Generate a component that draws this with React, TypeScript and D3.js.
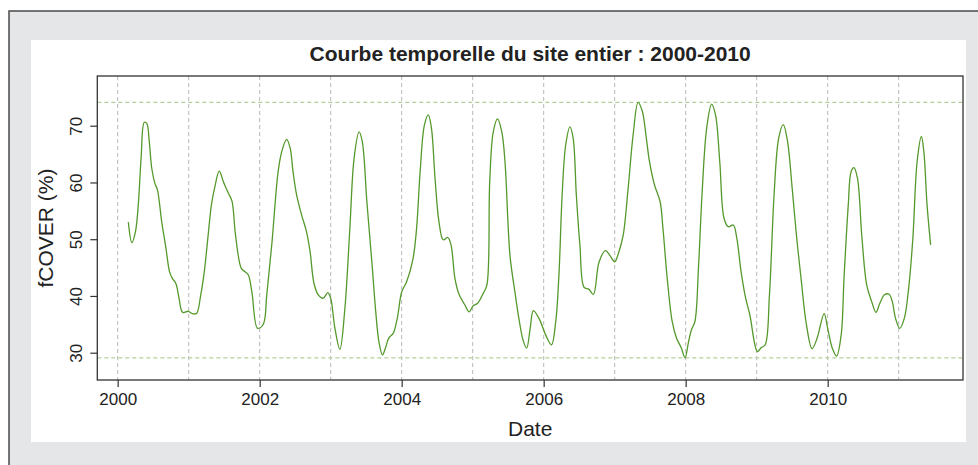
import { useEffect, useRef } from "react";
import * as d3 from "d3";

// decimal year of each sample
const dates = [
  2000.15, 2000.2, 2000.25, 2000.29, 2000.33, 2000.375, 2000.41, 2000.445, 2000.48, 2000.525,
  2000.56, 2000.62, 2000.68, 2000.73, 2000.77, 2000.82, 2000.86, 2000.915, 2000.995, 2001.05,
  2001.11, 2001.17, 2001.22, 2001.27, 2001.32, 2001.37, 2001.43, 2001.49, 2001.56, 2001.61,
  2001.66, 2001.74, 2001.79, 2001.84, 2001.89, 2001.97, 2002.05, 2002.1, 2002.17, 2002.26,
  2002.31, 2002.38, 2002.43, 2002.47, 2002.52, 2002.59, 2002.66, 2002.71, 2002.765, 2002.825,
  2002.895, 2002.96, 2003.0, 2003.06, 2003.13, 2003.2, 2003.27, 2003.33, 2003.4, 2003.445,
  2003.51, 2003.58, 2003.635, 2003.68, 2003.73, 2003.77, 2003.82, 2003.88, 2003.94, 2004.0,
  2004.07, 2004.16, 2004.21, 2004.26, 2004.32, 2004.375, 2004.42, 2004.47, 2004.525, 2004.585,
  2004.65, 2004.695, 2004.75, 2004.81, 2004.89, 2004.95, 2005.01, 2005.07, 2005.15, 2005.2,
  2005.24, 2005.29, 2005.35, 2005.41, 2005.455, 2005.525, 2005.595, 2005.65, 2005.71, 2005.76,
  2005.81, 2005.855, 2005.935, 2006.04, 2006.11, 2006.17, 2006.215, 2006.26, 2006.31, 2006.37,
  2006.415, 2006.46, 2006.51, 2006.57, 2006.635, 2006.7, 2006.78, 2006.87, 2006.93, 2007.0,
  2007.06, 2007.12, 2007.19, 2007.26, 2007.33, 2007.39, 2007.44, 2007.49, 2007.56, 2007.64,
  2007.68, 2007.74, 2007.81, 2007.87, 2007.94, 2007.99, 2008.04, 2008.08, 2008.13, 2008.18,
  2008.23, 2008.295, 2008.365, 2008.42, 2008.48, 2008.54, 2008.6, 2008.67, 2008.72, 2008.78,
  2008.845, 2008.905, 2008.975, 2009.01, 2009.065, 2009.12, 2009.18, 2009.245, 2009.31, 2009.375,
  2009.435, 2009.5, 2009.56, 2009.63, 2009.7, 2009.78, 2009.85, 2009.95, 2010.0, 2010.065,
  2010.125, 2010.19, 2010.23, 2010.29, 2010.33, 2010.37, 2010.42, 2010.48, 2010.55, 2010.62,
  2010.68, 2010.735, 2010.8, 2010.865, 2010.91, 2010.955, 2011.015, 2011.08, 2011.14, 2011.2,
  2011.26, 2011.32, 2011.355, 2011.4, 2011.45,
];

// fCOVER (%)
const fcover = [
  53.0, 49.4, 51.3, 56.0, 64.3, 70.6, 70.4, 67.2, 62.5, 59.8,
  58.7, 53.1, 48.4, 44.3, 43.1, 42.2, 39.9, 37.1, 37.3, 36.9,
  36.9, 40.2, 44.3, 50.2, 56.0, 59.3, 62.0, 60.1, 58.1, 56.7,
  50.7, 44.9, 44.3, 43.7, 40.7, 34.3, 35.0, 40.2, 49.0, 61.9,
  65.4, 67.6, 66.0, 61.9, 57.8, 54.3, 51.3, 47.8, 42.2, 40.2,
  39.6, 40.6, 39.6, 34.3, 30.6, 37.8, 51.9, 64.3, 68.9, 67.2,
  56.6, 46.0, 37.2, 31.9, 29.6, 30.8, 32.6, 33.4, 36.2, 40.7,
  42.5, 46.6, 51.9, 61.9, 70.1, 71.9, 69.5, 60.7, 53.1, 49.9,
  50.3, 49.0, 43.1, 40.2, 38.4, 37.2, 38.3, 38.7, 40.5, 41.9,
  60.1, 68.9, 71.2, 68.9, 63.7, 47.2, 40.7, 36.1, 32.2, 30.8,
  34.3, 37.4, 36.0, 32.8, 31.4, 35.5, 43.7, 57.8, 66.6, 69.8,
  67.8, 57.8, 49.0, 41.5, 41.2, 40.3, 46.0, 48.0, 47.2, 46.0,
  47.8, 50.7, 59.0, 68.4, 74.1, 72.5, 68.4, 63.7, 59.6, 56.6,
  51.9, 43.1, 35.5, 32.6, 30.8, 29.1, 31.9, 34.0, 35.5, 44.9,
  57.8, 69.5, 73.8, 71.9, 63.7, 53.7, 52.2, 52.5, 50.2, 44.3,
  39.6, 36.6, 31.4, 30.2, 30.9, 31.4, 40.2, 57.8, 67.8, 70.2,
  67.2, 59.0, 50.7, 42.5, 35.0, 30.7, 32.5, 36.9, 34.3, 30.8,
  29.4, 33.1, 43.1, 56.0, 61.9, 62.6, 60.7, 50.7, 41.9, 39.0,
  37.1, 38.7, 40.2, 40.3, 39.0, 36.1, 34.3, 36.1, 41.3, 50.2,
  63.7, 68.1, 65.4, 56.0, 49.0,
];

const xTicks = [2000, 2002, 2004, 2006, 2008, 2010];
const yTicks = [30, 40, 50, 60, 70];
const gridYears = d3.range(2000, 2012);

export default function App() {
  const ref = useRef<SVGSVGElement>(null);

  useEffect(() => {
    document.body.style.margin = "0";
    const svg = d3.select(ref.current);
    svg.selectAll("*").remove();

    const width = 978;
    const height = 465;
    const plot = { left: 97.3, right: 963, top: 76, bottom: 380 };
    const font = "'Liberation Sans', Arial, sans-serif";

    const data = dates.map((d, i) => ({ t: d, v: fcover[i] }));

    const x = d3.scaleLinear().domain([1999.713, 2011.906]).range([plot.left, plot.right]);
    const y = d3.scaleLinear().domain([25.19, 78.76]).range([plot.bottom, plot.top]);

    // frame
    svg.append("rect").attr("width", width).attr("height", height).attr("fill", "#fff");
    svg.append("rect")
      .attr("x", 9).attr("y", 11).attr("width", width).attr("height", height)
      .attr("fill", "#e5e6e7").attr("stroke", "#4a4a4a").attr("stroke-width", 1.5);
    svg.append("rect")
      .attr("x", 31).attr("y", 40).attr("width", 935).attr("height", 402)
      .attr("fill", "#fff");

    // vertical grid
    svg.append("g").selectAll("line")
      .data(gridYears)
      .enter().append("line")
      .attr("x1", d => x(d)).attr("x2", d => x(d))
      .attr("y1", plot.top).attr("y2", plot.bottom)
      .attr("stroke", "#b8b8b8").attr("stroke-width", 1)
      .attr("stroke-dasharray", "4,3");

    // min / max reference lines
    const extent = d3.extent(fcover) as [number, number];
    svg.append("g").selectAll("line")
      .data(extent)
      .enter().append("line")
      .attr("x1", plot.left).attr("x2", plot.right)
      .attr("y1", d => y(d)).attr("y2", d => y(d))
      .attr("stroke", "#b3cf98").attr("stroke-width", 1.2)
      .attr("stroke-dasharray", "4,3");

    // series
    const line = d3.line<{ t: number; v: number }>()
      .x(d => x(d.t))
      .y(d => y(d.v))
      .curve(d3.curveCatmullRom.alpha(0.5));

    svg.append("path")
      .datum(data)
      .attr("d", line)
      .attr("fill", "none")
      .attr("stroke", "#54992b")
      .attr("stroke-width", 1.3);

    // box
    svg.append("rect")
      .attr("x", plot.left).attr("y", plot.top)
      .attr("width", plot.right - plot.left).attr("height", plot.bottom - plot.top)
      .attr("fill", "none").attr("stroke", "#333").attr("stroke-width", 1.3);

    // x axis
    const xAxis = svg.append("g")
      .attr("transform", `translate(0,${plot.bottom})`)
      .call(d3.axisBottom(x).tickValues(xTicks).tickFormat(d3.format("d")).tickSize(7).tickPadding(6));
    xAxis.select(".domain").remove();
    xAxis.selectAll(".tick line").attr("stroke", "#333").attr("stroke-width", 1.2);
    xAxis.selectAll("text")
      .style("font-family", font).style("font-size", "17px").attr("fill", "#222");

    // y axis
    const yAxis = svg.append("g")
      .attr("transform", `translate(${plot.left},0)`)
      .call(d3.axisLeft(y).tickValues(yTicks).tickSize(7).tickFormat(d3.format("d")));
    yAxis.select(".domain").remove();
    yAxis.selectAll(".tick line").attr("stroke", "#333").attr("stroke-width", 1.2);
    yAxis.selectAll("text")
      .attr("x", null).attr("dy", null)
      .attr("transform", "translate(-20,0) rotate(-90)")
      .attr("text-anchor", "middle")
      .attr("dominant-baseline", "middle")
      .style("font-family", font).style("font-size", "17px").attr("fill", "#222");

    // title and labels
    svg.append("text")
      .attr("x", (plot.left + plot.right) / 2).attr("y", 61)
      .attr("text-anchor", "middle")
      .style("font-family", font).style("font-size", "21px").style("font-weight", "bold")
      .attr("fill", "#222")
      .text("Courbe temporelle du site entier : 2000-2010");

    svg.append("text")
      .attr("x", (plot.left + plot.right) / 2).attr("y", 436)
      .attr("text-anchor", "middle")
      .style("font-family", font).style("font-size", "21px")
      .attr("fill", "#222")
      .text("Date");

    svg.append("text")
      .attr("transform", `translate(53,${(plot.top + plot.bottom) / 2}) rotate(-90)`)
      .attr("text-anchor", "middle")
      .style("font-family", font).style("font-size", "21px")
      .attr("fill", "#222")
      .text("fCOVER (%)");
  }, []);

  return (
    <div style={{ position: "relative", width: 978, height: 465 }}>
      <svg ref={ref} width={978} height={465} style={{ display: "block" }} />
    </div>
  );
}
